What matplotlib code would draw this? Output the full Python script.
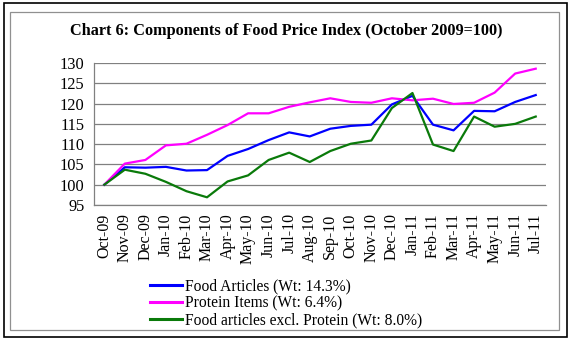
import matplotlib.pyplot as plt
from matplotlib.patches import Rectangle

months = ["Oct-09", "Nov-09", "Dec-09", "Jan-10", "Feb-10", "Mar-10", "Apr-10",
          "May-10", "Jun-10", "Jul-10", "Aug-10", "Sep-10", "Oct-10", "Nov-10",
          "Dec-10", "Jan-11", "Feb-11", "Mar-11", "Apr-11", "May-11", "Jun-11",
          "Jul-11"]
food_articles = [100.0, 104.3, 104.2, 104.4, 103.5, 103.6, 107.1, 108.8, 111.0,
                 112.9, 111.9, 113.8, 114.5, 114.8, 119.8, 121.9, 114.8, 113.4,
                 118.2, 118.1, 120.4, 122.1]
protein_items = [100.0, 105.2, 106.1, 109.7, 110.1, 112.3, 114.7, 117.6, 117.6,
                 119.2, 120.3, 121.3, 120.4, 120.2, 121.3, 120.8, 121.2, 119.9,
                 120.2, 122.7, 127.4, 128.6]
excl_protein = [100.0, 103.7, 102.7, 100.7, 98.4, 96.9, 100.8, 102.3, 106.1,
                107.9, 105.6, 108.3, 110.1, 110.9, 118.9, 122.6, 109.9, 108.3,
                116.8, 114.3, 115.0, 116.8]

series = [
    ("Food Articles (Wt: 14.3%)", food_articles, "#0000ff"),
    ("Protein Items (Wt: 6.4%)", protein_items, "#ff00ff"),
    ("Food articles excl. Protein (Wt: 8.0%)", excl_protein, "#0a7a0a"),
]

plt.rcParams["font.family"] = ["Liberation Serif", "DejaVu Serif"]

W, H = 575, 345
fig = plt.figure(figsize=(W / 100, H / 100), dpi=100)

# outer frame and inner grey frame, in pixel units
def px_rect(x0, y0, x1, y1, color, lw):
    fig.patches.append(Rectangle((x0 / W, 1 - y1 / H), (x1 - x0) / W, (y1 - y0) / H,
                                 transform=fig.transFigure, fill=False,
                                 edgecolor=color, linewidth=lw))

px_rect(4, 3, 567, 337, "black", 1.2)
px_rect(10, 12, 559, 330, "#909090", 0.9)

fig.text(286 / W, 1 - 31 / H,
         "Chart 6: Components of Food Price Index (October 2009=100)",
         ha="center", va="center", fontsize=11.7, fontweight="bold")

left, right, top, bottom = 94, 546, 63, 205
ax = fig.add_axes([left / W, 1 - bottom / H, (right - left) / W, (bottom - top) / H])

x = list(range(len(months)))
handles = []
for label, vals, color in series:
    ln, = ax.plot(x, vals, color=color, lw=1.6, label=label)
    handles.append(ln)

ax.set_xlim(-0.5, len(months) - 0.5)
ax.set_ylim(95, 130)
ax.set_yticks(range(95, 131, 5))
ax.set_xticks(x)
ax.set_xticklabels(months, rotation=90, fontsize=11.5)
ax.tick_params(axis="y", labelsize=11.8, length=0, pad=7)
ax.tick_params(axis="x", length=0, pad=6)
ax.yaxis.grid(True, color="#808080", lw=0.9)
ax.set_axisbelow(True)
for side in ["top", "right"]:
    ax.spines[side].set_visible(False)
for side in ["left", "bottom"]:
    ax.spines[side].set_color("#808080")
    ax.spines[side].set_linewidth(0.9)

leg = fig.legend(handles=handles, loc="upper left",
                 bbox_to_anchor=(142 / W, 1 - 271 / H), frameon=False,
                 fontsize=11.2, handlelength=2.1, handletextpad=0.15,
                 labelspacing=0.05, borderpad=0)
for h in leg.legend_handles:
    h.set_linewidth(2.2)

fig.savefig("out.png", dpi=100)
